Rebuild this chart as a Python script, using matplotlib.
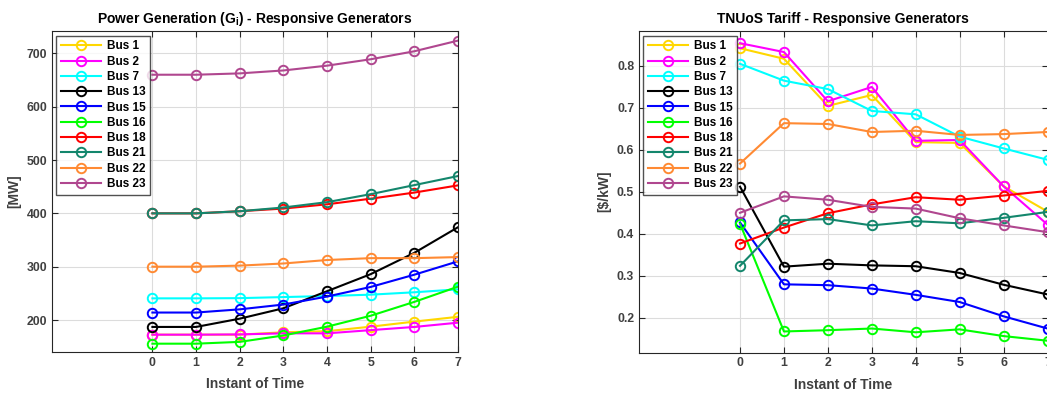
import matplotlib
matplotlib.use("Agg")
import matplotlib.pyplot as plt
import numpy as np

plt.rcParams['font.family'] = ['Liberation Sans', 'DejaVu Sans']
plt.rcParams['mathtext.fontset'] = 'custom'
plt.rcParams['mathtext.bf'] = 'Liberation Sans:bold'
plt.rcParams['mathtext.rm'] = 'Liberation Sans:bold'

t = [0, 1, 2, 3, 4, 5, 6, 7]
buses = ['Bus 1', 'Bus 2', 'Bus 7', 'Bus 13', 'Bus 15', 'Bus 16', 'Bus 18', 'Bus 21', 'Bus 22', 'Bus 23']
colors = ['#FFD700', '#FF00FF', '#00FFFF', '#000000', '#0000FF', '#00FF00', '#FF0000', '#13866C', '#FF8A33', '#B0478F']

gen_bus1 = [172.5, 172.5, 172.5, 177, 179, 187.5, 197, 206]
gen_bus2 = [172.5, 172.5, 173, 175, 175, 181, 187, 195]
gen_bus7 = [240.6, 240.6, 241, 243, 245, 247.5, 252, 257.5]
gen_bus13 = [187, 187, 202.5, 222, 254, 286, 326, 374]
gen_bus15 = [214, 214, 220, 229, 244, 262, 285, 310]
gen_bus16 = [155.6, 155.6, 159, 171, 187.5, 208, 234, 262.5]
gen_bus18 = [400, 400, 404, 409, 417, 427.5, 439, 452.5]
gen_bus21 = [400, 400, 404, 411, 421, 436, 453, 470]
gen_bus22 = [300, 300, 302, 306, 312.5, 316, 316, 318]
gen_bus23 = [660, 660, 662.5, 668, 677, 689, 704, 724]

tar_bus1 = [0.841, 0.816, 0.704, 0.730, 0.618, 0.616, 0.513, 0.453]
tar_bus2 = [0.853, 0.832, 0.715, 0.749, 0.621, 0.623, 0.513, 0.422]
tar_bus7 = [0.804, 0.764, 0.744, 0.692, 0.684, 0.631, 0.603, 0.576]
tar_bus13 = [0.512, 0.322, 0.329, 0.325, 0.323, 0.307, 0.279, 0.256]
tar_bus15 = [0.427, 0.280, 0.278, 0.270, 0.255, 0.238, 0.204, 0.175]
tar_bus16 = [0.424, 0.168, 0.171, 0.175, 0.166, 0.173, 0.157, 0.146]
tar_bus18 = [0.377, 0.415, 0.449, 0.470, 0.487, 0.481, 0.491, 0.502]
tar_bus21 = [0.324, 0.432, 0.435, 0.420, 0.430, 0.425, 0.438, 0.452]
tar_bus22 = [0.567, 0.663, 0.661, 0.642, 0.645, 0.635, 0.637, 0.642]
tar_bus23 = [0.450, 0.489, 0.481, 0.464, 0.460, 0.437, 0.420, 0.404]

gen = [gen_bus1, gen_bus2, gen_bus7, gen_bus13, gen_bus15, gen_bus16, gen_bus18, gen_bus21, gen_bus22, gen_bus23]
tar = [tar_bus1, tar_bus2, tar_bus7, tar_bus13, tar_bus15, tar_bus16, tar_bus18, tar_bus21, tar_bus22, tar_bus23]

W, H = 1047, 394
fig = plt.figure(figsize=(W / 100, H / 100), dpi=100)

tick_col = '#404040'

def make_ax(rect, data, ylim, yticks, title, ylabel, yfmt):
    ax = fig.add_axes(rect)
    for series, c, name in zip(data, colors, buses):
        ax.plot(t, series, color=c, lw=1.5, marker='o', ms=6.8, mfc='none', mew=1.4, label=name)
    ax.set_xlim(-2.3, 7)
    ax.set_ylim(*ylim)
    ax.set_xticks(t)
    ax.set_yticks(yticks)
    ax.set_yticklabels([yfmt(v) for v in yticks])
    ax.grid(True, color='#dcdcdc', lw=0.8)
    ax.set_axisbelow(True)
    ax.tick_params(direction='in', length=4, top=True, right=True, colors='#262626',
                   labelcolor=tick_col, labelsize=8.8, width=0.8)
    for lab in ax.get_xticklabels() + ax.get_yticklabels():
        lab.set_fontweight('bold')
    for s in ax.spines.values():
        s.set_color('#262626')
        s.set_linewidth(0.8)
    ax.set_title(title, fontsize=10, fontweight='bold', pad=6)
    ax.set_xlabel('Instant of Time', fontsize=10, fontweight='bold', color=tick_col, labelpad=6)
    ax.set_ylabel(ylabel, fontsize=10, fontweight='bold', color=tick_col, labelpad=4)
    leg = ax.legend(loc='upper left', bbox_to_anchor=(0.004, 0.993), prop={'weight': 'bold', 'size': 8.5},
                    frameon=True, fancybox=False, edgecolor='#262626', handlelength=3.4,
                    labelspacing=0.28, borderpad=0.4, handletextpad=0.5, borderaxespad=0.2)
    leg.get_frame().set_linewidth(1.0)
    return ax

ax1 = make_ax([52 / W, 42 / H, 406 / W, 321 / H], gen, (140, 742), [200, 300, 400, 500, 600, 700],
              r'Power Generation (G$_\mathbf{i}$) - Responsive Generators', '[MW]', lambda v: f'{v:d}')
ax2 = make_ax([639 / W, 41.5 / H, 408.5 / W, 321.5 / H], tar, (0.118, 0.882), [0.2, 0.3, 0.4, 0.5, 0.6, 0.7, 0.8],
              'TNUoS Tariff - Responsive Generators', r'[\$/kW]', lambda v: f'{v:.1f}')

fig.savefig('out.png', dpi=100)
